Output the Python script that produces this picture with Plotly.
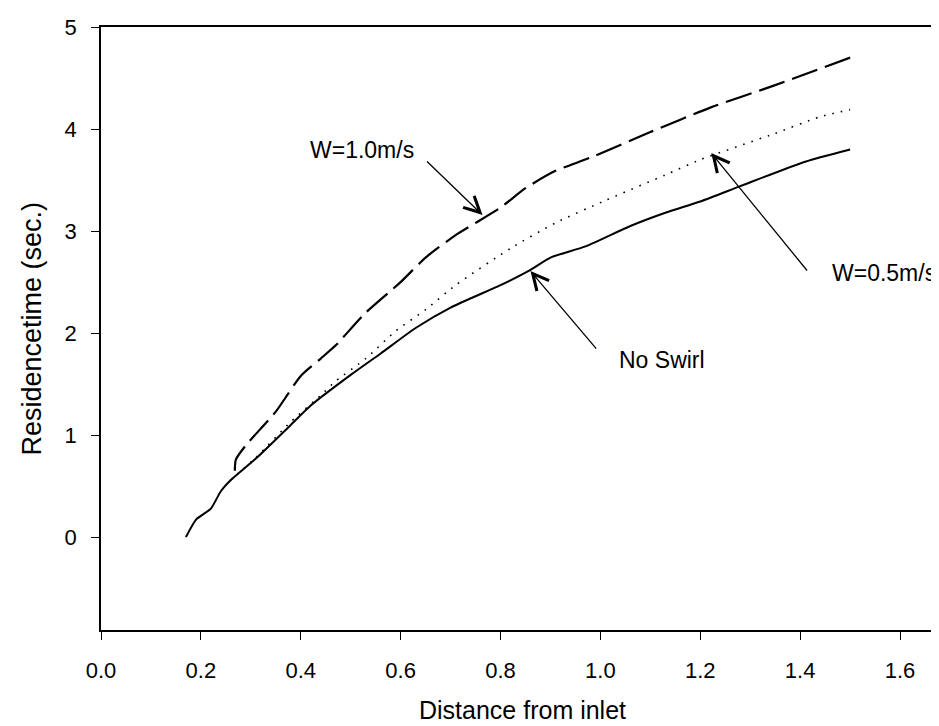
import plotly.graph_objects as go

# No Swirl (solid)
x_noswirl = [0.17, 0.19, 0.22, 0.24, 0.26, 0.31, 0.38, 0.42, 0.50, 0.56, 0.63, 0.70,
             0.80, 0.86, 0.90, 0.97, 1.06, 1.13, 1.20, 1.28, 1.41, 1.50]
y_noswirl = [0.00, 0.17, 0.28, 0.45, 0.56, 0.77, 1.10, 1.29, 1.59, 1.80, 2.05, 2.25,
             2.47, 2.62, 2.74, 2.85, 3.05, 3.18, 3.29, 3.44, 3.68, 3.80]

# W=0.5 m/s (dotted)
x_w05 = [0.26, 0.31, 0.38, 0.44, 0.47, 0.53, 0.59, 0.65, 0.71, 0.82, 0.91, 1.01,
         1.13, 1.20, 1.34, 1.44, 1.50]
y_w05 = [0.56, 0.78, 1.13, 1.39, 1.53, 1.75, 2.02, 2.23, 2.47, 2.83, 3.08, 3.30,
         3.55, 3.70, 3.94, 4.12, 4.19]

# W=1.0 m/s (dashed)
x_w10 = [0.268, 0.27, 0.29, 0.35, 0.40, 0.44, 0.47, 0.53, 0.60, 0.65, 0.71, 0.75,
         0.80, 0.85, 0.91, 0.98, 1.10, 1.22, 1.35, 1.50]
y_w10 = [0.65, 0.76, 0.90, 1.23, 1.58, 1.75, 1.88, 2.20, 2.50, 2.74, 2.96, 3.08,
         3.23, 3.42, 3.59, 3.72, 3.97, 4.21, 4.43, 4.70]

x_ticks = [0.0, 0.2, 0.4, 0.6, 0.8, 1.0, 1.2, 1.4, 1.6]
y_ticks = [0, 1, 2, 3, 4, 5]

FONT = "Arial, Liberation Sans, sans-serif"

fig = go.Figure()
fig.add_trace(go.Scatter(x=x_noswirl, y=y_noswirl, mode="lines",
                         line=dict(color="black", width=2, shape="spline", smoothing=0.6)))
fig.add_trace(go.Scatter(x=x_w05, y=y_w05, mode="lines",
                         line=dict(color="black", width=1.6, dash="1.6px,7px",
                                   shape="spline", smoothing=0.6)))
fig.add_trace(go.Scatter(x=x_w10, y=y_w10, mode="lines",
                         line=dict(color="black", width=2.2, dash="27px,8px",
                                   shape="spline", smoothing=0.6)))

ann_font = dict(family=FONT, size=23, color="black")
arrow_style = dict(text="", showarrow=True, arrowhead=5, arrowsize=2.4,
                   arrowwidth=1.3, arrowcolor="black")
annotations = [
    # arrows
    dict(x=0.764, y=3.157, ax=-57, ay=-55, **arrow_style),
    dict(x=1.222, y=3.765, ax=97, ay=119, **arrow_style),
    dict(x=0.86, y=2.608, ax=67, ay=79, **arrow_style),
    # labels
    dict(x=0.523, y=3.794, text="W=1.0m/s", showarrow=False, font=ann_font),
    dict(x=1.567, y=2.588, text="W=0.5m/s", showarrow=False, font=ann_font),
    dict(x=1.123, y=1.735, text="No Swirl", showarrow=False, font=ann_font),
    # axis titles
    dict(xref="paper", yref="paper", x=0.5, y=0, yshift=-80, yanchor="middle",
         text="Distance from inlet", showarrow=False,
         font=dict(family=FONT, size=25, color="black")),
    dict(xref="paper", yref="paper", x=0, y=0.5, xshift=-70, xanchor="center",
         text="Residencetime (sec.)", showarrow=False, textangle=-90,
         font=dict(family=FONT, size=27, color="black")),
]

fig.update_layout(
    width=939, height=726,
    margin=dict(l=93, r=1, t=19, b=104),
    plot_bgcolor="white", paper_bgcolor="white",
    showlegend=False,
    font=dict(family=FONT, color="black"),
    annotations=annotations,
)
fig.update_xaxes(range=[0, 1.688], tickvals=x_ticks,
                 ticktext=[f"{v:.1f}" for v in x_ticks],
                 showgrid=False, zeroline=False,
                 showline=True, linecolor="black", linewidth=1.5, mirror=True,
                 ticks="outside", ticklen=8, tickwidth=1.3, tickcolor="black",
                 ticklabelstandoff=12,
                 tickfont=dict(family=FONT, size=22, color="black"))
fig.update_yaxes(range=[-0.91, 5], tickvals=y_ticks,
                 showgrid=False, zeroline=False,
                 showline=True, linecolor="black", linewidth=1.5, mirror=True,
                 ticks="outside", ticklen=8, tickwidth=1.3, tickcolor="black",
                 ticklabelstandoff=10,
                 tickfont=dict(family=FONT, size=22, color="black"))

fig.write_html("out.html")
